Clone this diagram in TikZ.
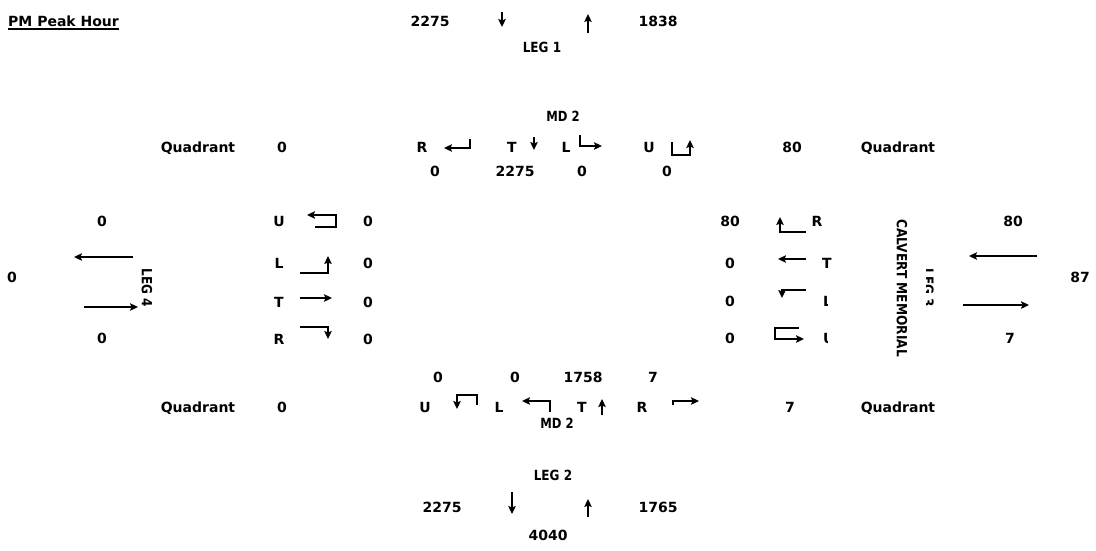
\documentclass[tikz,border=0pt]{standalone}
\usepackage{fontspec}
\setmainfont{DejaVu Sans}
\usetikzlibrary{arrows.meta}

% capitals run a little narrower than DejaVu
\newcommand{\narrow}[2][0.86]{\scalebox{#1}[1]{#2}}

\begin{document}
\begin{tikzpicture}[x=1pt,y=-1pt,
  lbl/.style={font=\fontsize{14}{16}\selectfont\bfseries,inner sep=0pt,anchor=base},
  legname/.style={lbl,rotate=-90,anchor=center},
  mv/.style={line width=1.4pt,-{Stealth[length=8pt,width=7.5pt,inset=1.5pt]}}]
\useasboundingbox (0,0) rectangle (1096,550);

% heading
\node[lbl,anchor=base west] (title) at (8,26) {PM Peak Hour};
\draw[line width=1.5pt] ([yshift=-3pt]title.base west) -- ([yshift=-3pt]title.base east);

% leg 1
\node[lbl] (in1)  at (430,26) {2275};
\node[lbl] (out1) at (658,26) {1838};
\node[lbl] (leg1) at (542,52) {\narrow{LEG 1}};
\draw[mv] (502,12) -- (502,27);
\draw[mv] (588,33) -- (588,14);

% upper movements
\node[lbl] (mdtop) at (563,121) {\narrow[0.83]{MD 2}};
\node[lbl] (qnw)  at (198,152) {Quadrant};
\node[lbl] (qnwv) at (282,152) {0};
\node[lbl] (nR) at (422,152) {R};
\node[lbl] (nT) at (512,152) {T};
\node[lbl] (nL) at (566,152) {L};
\node[lbl] (nU) at (649,152) {U};
\node[lbl] (qnev) at (792,152) {80};
\node[lbl] (qne)  at (898,152) {Quadrant};
\node[lbl] (nRv) at (435,176) {0};
\node[lbl] (nTv) at (515,176) {2275};
\node[lbl] (nLv) at (582,176) {0};
\node[lbl] (nUv) at (667,176) {0};
\draw[mv] (470,139) |- (444,148);
\draw[mv] (534,137) -- (534,150);
\draw[mv] (580,135) |- (602,146);
\draw[mv] (672,142) |- (690,155) -- (690,140);

% leg 4
\node[lbl] (in4)  at (102,226) {0};
\node[lbl] (tot4) at (12,282) {0};
\node[lbl] (out4) at (102,343) {0};
\node[legname] (leg4) at (147,288) {\narrow{LEG 4}};
\draw[mv] (133,257) -- (74,257);
\draw[mv] (84,307) -- (138,307);

% left movements
\node[lbl] (wU) at (279,226) {U};
\node[lbl] (wL) at (279,268) {L};
\node[lbl] (wT) at (279,307) {T};
\node[lbl] (wR) at (279,344) {R};
\node[lbl] (wUv) at (368,226) {0};
\node[lbl] (wLv) at (368,268) {0};
\node[lbl] (wTv) at (368,307) {0};
\node[lbl] (wRv) at (368,344) {0};
\draw[mv] (315,227) -| (336,215) -- (307,215);
\draw[mv] (300,273) -| (328,256);
\draw[mv] (300,298) -- (332,298);
\draw[mv] (300,327) -| (328,339);

% right movements
\node[lbl] (eRv) at (730,226) {80};
\node[lbl] (eTv) at (730,268) {0};
\node[lbl] (eLv) at (730,306) {0};
\node[lbl] (eUv) at (730,343) {0};
\node[lbl] (eR) at (817,226) {R};
\node[lbl] (eT) at (827,268) {T};
\begin{scope}
  \clip (815,285) rectangle (827.5,350);
  \node[lbl,anchor=base west] (eL) at (823,306) {L};
  \node[lbl,anchor=base west] (eU) at (823,343) {U};
\end{scope}
\draw[mv] (806,232) -| (780,217);
\draw[mv] (806,259) -- (778,259);
\draw[mv] (806,290) -| (782,298);
\draw[mv] (799,328) -| (775,339) -- (804,339);

% leg 3
\node[legname] (road3) at (902,288) {\narrow[0.87]{CALVERT MEMORIAL}};
\begin{scope}
  \clip (926.5,240) rectangle (945,340);
  \node[legname] (leg3) at (928.5,288) {\narrow{LEG 3}};
\end{scope}
\node[lbl] (in3)  at (1013,226) {80};
\node[lbl] (tot3) at (1080,282) {87};
\node[lbl] (out3) at (1010,343) {7};
\draw[mv] (1037,256) -- (969,256);
\draw[mv] (963,305) -- (1029,305);

% lower movements
\node[lbl] (sUv) at (438,382) {0};
\node[lbl] (sLv) at (515,382) {0};
\node[lbl] (sTv) at (583,382) {1758};
\node[lbl] (sRv) at (653,382) {7};
\node[lbl] (qsw)  at (198,412) {Quadrant};
\node[lbl] (qswv) at (282,412) {0};
\node[lbl] (sU) at (425,412) {U};
\node[lbl] (sL) at (499,412) {L};
\node[lbl] (sT) at (582,412) {T};
\node[lbl] (sR) at (642,412) {R};
\node[lbl] (qsev) at (790,412) {7};
\node[lbl] (qse)  at (898,412) {Quadrant};
\node[lbl] (mdbot) at (557,428) {\narrow[0.83]{MD 2}};
\draw[mv] (477,405) |- (457,395) -- (457,409);
\draw[mv] (550,412) |- (522,401);
\draw[mv] (602,415) -- (602,399);
\draw[mv] (673,405) |- (699,401);

% leg 2
\node[lbl] (leg2) at (553,480) {\narrow{LEG 2}};
\node[lbl] (out2) at (442,512) {2275};
\node[lbl] (in2)  at (658,512) {1765};
\node[lbl] (tot2) at (548,540) {4040};
\draw[mv] (512,492) -- (512,514);
\draw[mv] (588,517) -- (588,499);
\end{tikzpicture}
\end{document}
